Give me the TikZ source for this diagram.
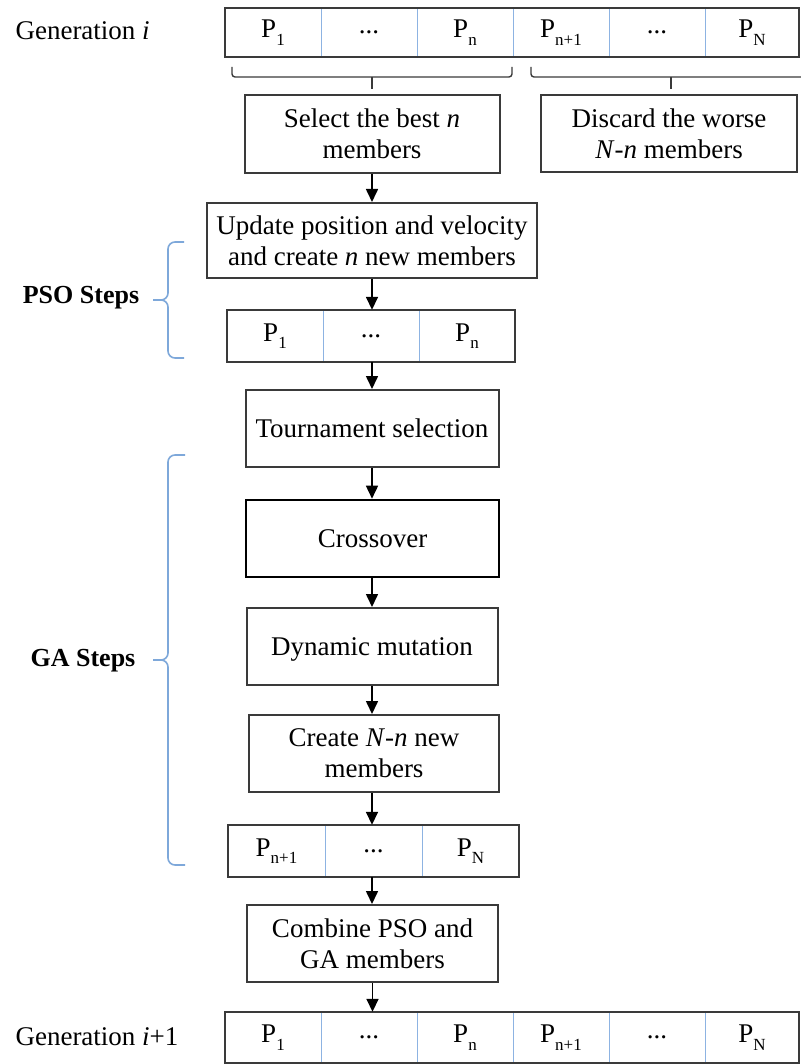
\documentclass[tikz,border=0pt]{standalone}
\usepackage{fontspec}
\setmainfont{Liberation Serif}
\usetikzlibrary{arrows.meta}
\definecolor{edge}{HTML}{3A3A3A}
\definecolor{lblue}{HTML}{8DB3E2}
\definecolor{bblue}{HTML}{7EA8DA}
\newcommand\sbs[1]{\raisebox{-0.6ex}{\fontsize{17}{17}\selectfont #1}}
\begin{document}
\begin{tikzpicture}[x=1pt,y=-1pt,
  base/.style={font=\fontsize{27}{31}\selectfont},
  bold/.style={font=\fontsize{26}{30}\selectfont\bfseries},
  box/.style={base, draw=edge, line width=2pt, align=center, inner sep=0pt, text depth=0pt},
  thickbox/.style={box, draw=black, line width=2.6pt},
  cell/.style={base, minimum width=96pt, inner sep=0pt},
  div/.style={draw=lblue, line width=1.4pt},
  outer/.style={draw=edge, line width=2pt},
  arr/.style={line width=1.6pt, -{Triangle[width=12pt,length=13pt]}},
  gbrace/.style={draw=edge, line width=1.4pt, rounded corners=3pt},
  bbrace/.style={draw=bblue, line width=1.6pt, rounded corners=7pt}]
\useasboundingbox (0,0) rectangle (800,1064);

% ---- generation i ----
\node[base, anchor=west] (geni) at (12,31) {Generation \textit{i}};
\node[cell, minimum height=49pt] (t1) at (273,32.5) {P\sbs{1}};
\node[cell, minimum height=49pt] (t2) at (369,32.5) {...};
\node[cell, minimum height=49pt] (t3) at (465,32.5) {P\sbs{n}};
\node[cell, minimum height=49pt] (t4) at (561,32.5) {P\sbs{n+1}};
\node[cell, minimum height=49pt] (t5) at (657,32.5) {...};
\node[cell, minimum height=49pt, minimum width=94pt] (t6) at (752,32.5) {P\sbs{N}};
\foreach \c in {t1,t2,t3,t4,t5} \draw[div] (\c.north east) -- (\c.south east);
\draw[outer] (t1.north west) rectangle (t6.south east);

% ---- top braces ----
\draw[gbrace] (232,67) -- (232,77) -- (512,77) -- (512,67);
\draw[gbrace] (372,77) -- (372,89);
\draw[gbrace] (531,67) -- (531,77) -- (802,77);
\draw[gbrace] (671,77) -- (671,89);

% ---- boxes ----
\node[box, minimum width=255pt, minimum height=78pt] (sel) at (372,134) {Select the best \textit{n}\\members};
\node[box, minimum width=256pt, minimum height=77pt] (disc) at (669,133.5) {Discard the worse\\\textit{N}-\textit{n} members};
\node[box, minimum width=330pt, minimum height=75pt] (upd) at (372,240.5) {Update position and velocity\\and create \textit{n} new members};

\node[cell, minimum height=52pt] (m1) at (275,336) {P\sbs{1}};
\node[cell, minimum height=52pt] (m2) at (371,336) {...};
\node[cell, minimum height=52pt] (m3) at (467,336) {P\sbs{n}};
\foreach \c in {m1,m2} \draw[div] (\c.north east) -- (\c.south east);
\draw[outer] (m1.north west) rectangle (m3.south east);

\node[box, minimum width=253pt, minimum height=77pt] (tour) at (372,428.5) {Tournament selection};
\node[thickbox, minimum width=253pt, minimum height=77pt] (cross) at (372.5,538.5) {Crossover};
\node[box, minimum width=251pt, minimum height=77pt] (mut) at (372,646.5) {Dynamic mutation};
\node[box, minimum width=250pt, minimum height=77pt] (crt) at (374,753.5) {Create \textit{N}-\textit{n} new\\members};

\node[cell, minimum width=97pt, minimum height=52pt] (r1) at (276.5,851) {P\sbs{n+1}};
\node[cell, minimum width=97pt, minimum height=52pt] (r2) at (373.5,851) {...};
\node[cell, minimum width=97pt, minimum height=52pt] (r3) at (470.5,851) {P\sbs{N}};
\foreach \c in {r1,r2} \draw[div] (\c.north east) -- (\c.south east);
\draw[outer] (r1.north west) rectangle (r3.south east);

\node[box, minimum width=251pt, minimum height=77pt] (comb) at (372.5,943.5) {Combine PSO and\\GA members};

% ---- generation i+1 ----
\node[base, anchor=west] (genj) at (12,1037) {Generation \textit{i}+1};
\node[cell, minimum height=51pt] (b1) at (273,1037.5) {P\sbs{1}};
\node[cell, minimum height=51pt] (b2) at (369,1037.5) {...};
\node[cell, minimum height=51pt] (b3) at (465,1037.5) {P\sbs{n}};
\node[cell, minimum height=51pt] (b4) at (561,1037.5) {P\sbs{n+1}};
\node[cell, minimum height=51pt] (b5) at (657,1037.5) {...};
\node[cell, minimum height=51pt, minimum width=94pt] (b6) at (752,1037.5) {P\sbs{N}};
\foreach \c in {b1,b2,b3,b4,b5} \draw[div] (\c.north east) -- (\c.south east);
\draw[outer] (b1.north west) rectangle (b6.south east);

% ---- arrows ----
\draw[arr] (sel.south) -- (sel.south |- upd.north);
\draw[arr] (upd.south) -- (upd.south |- m2.north);
\draw[arr] (upd.south |- m2.south) -- (upd.south |- tour.north);
\draw[arr] (tour.south) -- (tour.south |- cross.north);
\draw[arr] (tour.south |- cross.south) -- (tour.south |- mut.north);
\draw[arr] (tour.south |- mut.south) -- (tour.south |- crt.north);
\draw[arr] (tour.south |- crt.south) -- (tour.south |- r2.north);
\draw[arr] (tour.south |- r2.south) -- (tour.south |- comb.north);
\draw[arr] (comb.south) -- (comb.south |- b2.north);

% ---- side braces ----
\draw[bbrace] (184,242) -- (168,242) -- (168,300) -- (153,300);
\draw[bbrace] (184,358) -- (168,358) -- (168,300) -- (153,300);
\node[bold] (pso) at (81,298) {PSO Steps};
\draw[bbrace] (185,455) -- (168,455) -- (168,660) -- (153,660);
\draw[bbrace] (185,865) -- (168,865) -- (168,660) -- (153,660);
\node[bold] (ga) at (83,661) {GA Steps};
\end{tikzpicture}
\end{document}
